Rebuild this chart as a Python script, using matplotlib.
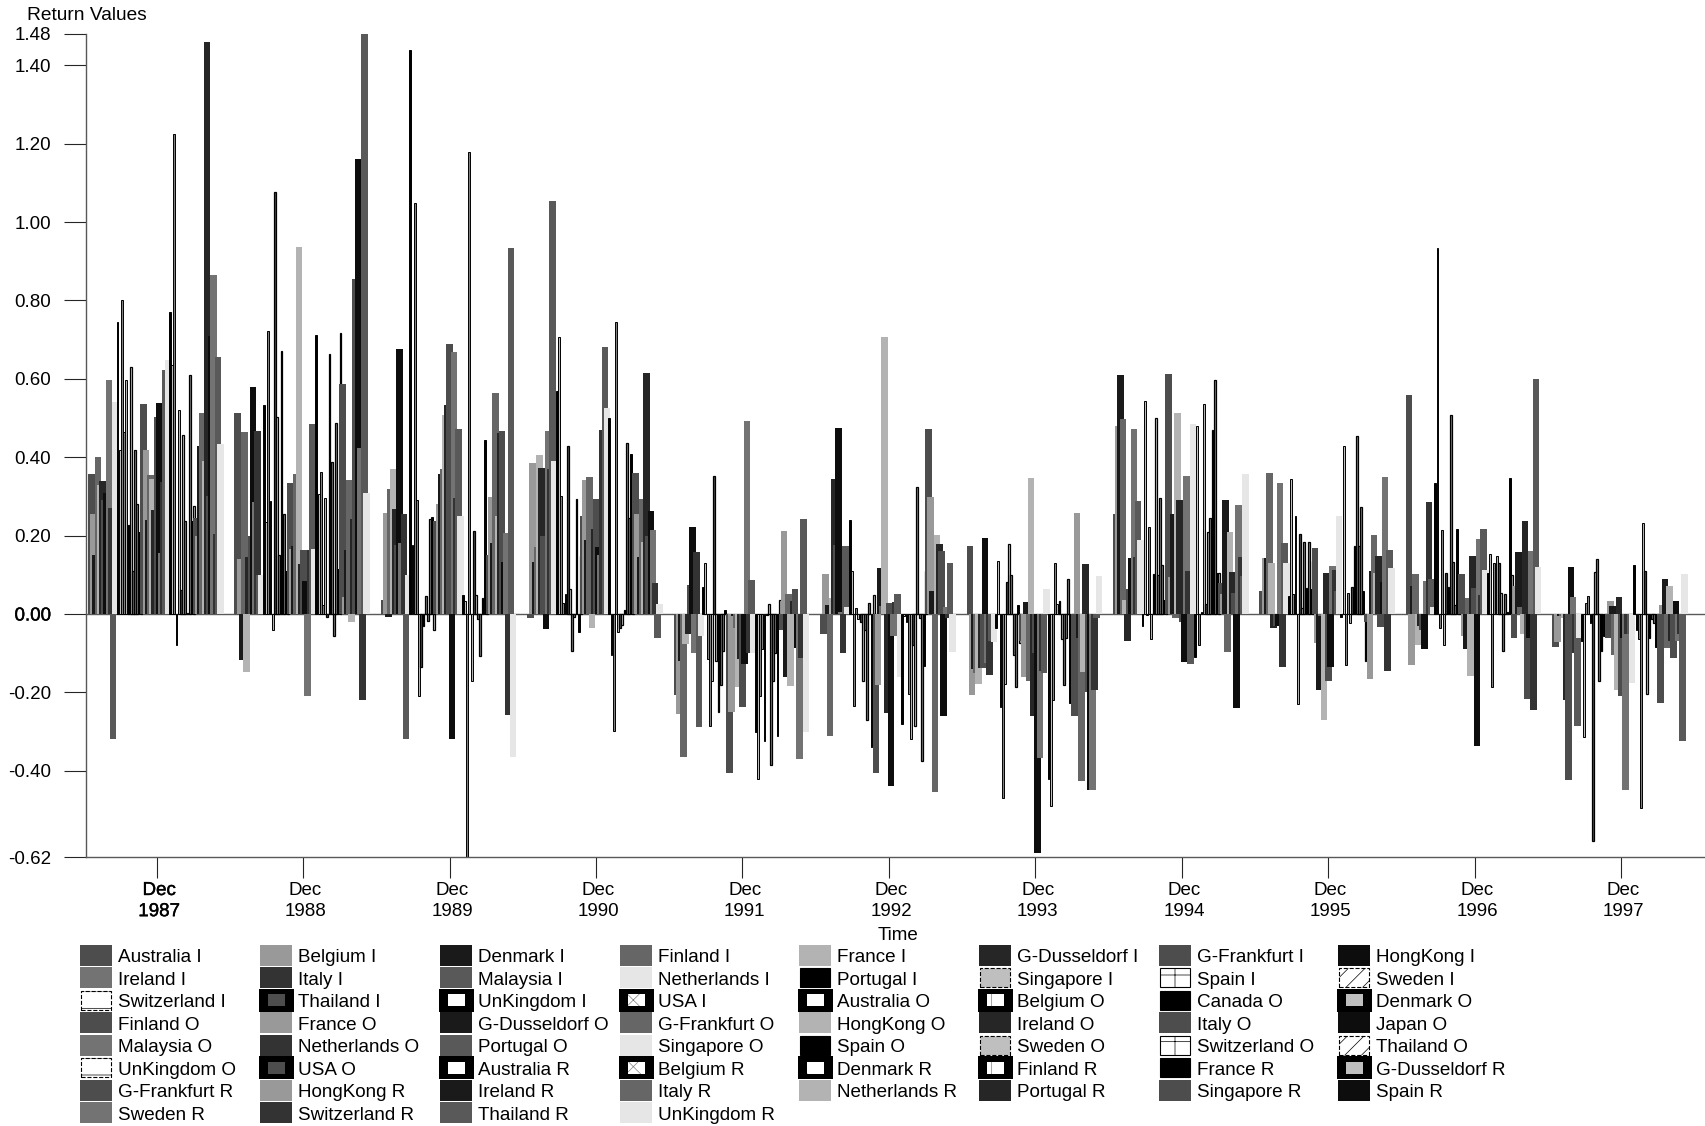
import matplotlib
matplotlib.use("Agg")
import matplotlib.pyplot as plt
import matplotlib.patheffects as pe
from matplotlib.patches import Rectangle
from matplotlib.transforms import IdentityTransform, ScaledTranslation

plt.rcParams['font.family'] = ['Liberation Sans', 'DejaVu Sans']
plt.rcParams['hatch.linewidth'] = 0.5

series = ["Australia I", "Belgium I", "Denmark I", "Finland I", "France I", "G-Dusseldorf I", "G-Frankfurt I", "HongKong I",
          "Ireland I", "Italy I", "Malaysia I", "Netherlands I", "Portugal I", "Singapore I", "Spain I", "Sweden I",
          "Switzerland I", "Thailand I", "UnKingdom I", "USA I", "Australia O", "Belgium O", "Canada O", "Denmark O",
          "Finland O", "France O", "G-Dusseldorf O", "G-Frankfurt O", "HongKong O", "Ireland O", "Italy O", "Japan O",
          "Malaysia O", "Netherlands O", "Portugal O", "Singapore O", "Spain O", "Sweden O", "Switzerland O", "Thailand O",
          "UnKingdom O", "USA O", "Australia R", "Belgium R", "Denmark R", "Finland R", "France R", "G-Dusseldorf R",
          "G-Frankfurt R", "HongKong R", "Ireland R", "Italy R", "Netherlands R", "Portugal R", "Singapore R", "Spain R",
          "Sweden R", "Switzerland R", "Thailand R", "UnKingdom R"]

years = ["1987", "1988", "1989", "1990", "1991", "1992", "1993", "1994", "1995", "1996", "1997"]

dec_1987 = [.358, .256, .15, .40, .33, .34, .29, .31, .597, .27, -.32, .54,
            .745, .418, .80, .465, .597, .226, .63, .11, .418, .28, .21, .005,
            .535, .418, .24, .354, .344, .265, .503, .539, .156, .337, .622, .648,
            .771, .635, 1.224, -.078, .52, .062, .458, .237, .003, .609, .237, .275,
            .246, .2, .43, .514, .39, 1.459, .3, .71, .865, .205, .656, .435]
dec_1988 = [.513, .141, -.117, .464, -.147, .145, .2, .58, .286, .466, .1, .10,
            .533, .235, .722, .288, -.04, 1.077, .503, .15, .671, .256, .11, .002,
            .334, .167, .174, .358, .937, .128, .163, .083, -.208, .163, .486, .167,
            .711, .305, .363, .022, .297, -.008, .663, .389, -.056, .488, .116, .716,
            .588, .043, .163, .341, -.02, .243, .854, 1.161, .424, -.22, 1.482, .31]
dec_1989 = [.035, .258, -.008, .32, .369, .269, .177, .676, .18, .256, -.32, .099,
            1.439, .175, 1.048, .292, -.208, -.136, -.03, .046, -.017, .243, .248, -.04,
            .237, .282, .357, .369, .509, .533, .69, -.32, .669, .296, .473, .25,
            .049, .032, -.62, 1.18, -.17, .211, .048, -.012, -.108, .04, .443, .065,
            .15, .299, .181, .565, .249, .463, .467, .133, .208, -.257, .935, -.365]
dec_1990 = [-.01, .386, .133, .17, .405, .373, .198, -.037, .466, .369, 1.055, .39,
            .568, .707, .30, .028, .052, .43, .065, -.095, -.007, .294, -.045, .147,
            .25, .341, .188, .35, -.035, .218, .294, .171, .15, .469, .682, .526,
            .50, -.105, -.298, .745, -.047, -.035, -.028, .01, .437, .246, .409, .26,
            .36, .256, .145, .294, .184, .614, .2, .263, .215, .079, -.06, .026]
dec_1991 = [-.206, -.255, -.12, -.366, -.077, -.052, .073, .222, -.10, .157, -.288, -.055,
            .07, .13, -.115, -.285, -.17, .351, -.12, -.25, -.18, -.095, .011, -.005,
            -.405, -.25, -.005, -.035, -.185, -.115, -.237, -.128, .493, -.10, .088, -.10,
            -.30, -.42, -.21, -.09, -.325, -.002, .025, -.385, -.17, -.1, -.31, .035,
            -.04, .212, -.16, .05, -.184, .032, .065, -.087, -.37, -.113, .243, -.30]
dec_1992 = [-.05, .101, .022, -.31, .04, .345, .175, .475, .005, -.10, .173, .017,
            .24, .11, -.235, .016, -.013, -.02, -.17, -.04, -.27, .028, -.34, .048,
            -.405, -.18, .117, .02, .707, -.253, .029, -.44, -.055, .03, .05, -.16,
            -.28, -.004, -.02, -.205, -.318, -.08, -.285, .325, -.01, -.375, -.133, .11,
            .471, .298, .059, -.455, .202, .178, .161, -.26, .018, -.01, .129, -.097]
dec_1993 = [.174, -.206, -.14, -.15, -.178, -.138, -.138, .194, -.125, -.155, -.07, -.071,
            -.036, .136, -.238, -.47, -.178, .082, .178, .10, -.105, -.185, .022, -.075,
            -.07, -.16, .03, -.17, .348, -.26, -.1, -.61, -.367, -.145, -.15, .065,
            -.42, -.49, -.22, .129, .025, .032, -.063, -.18, -.06, .09, -.228, -.003,
            -.26, .259, -.06, -.425, -.148, .127, -.2, -.45, -.45, -.195, -.01, .096]
dec_1994 = [.254, .479, .609, .497, .037, -.07, .065, .143, .471, .145, .289, .188,
            -.03, .544, -.002, .222, -.065, .103, .50, .10, .297, .125, .035, .24,
            .613, .095, .254, -.01, .514, .292, -.02, -.123, .353, .11, -.128, .485,
            -.11, .48, -.08, .004, .537, .025, .21, .245, .47, .596, .105, .105,
            .08, .05, .292, -.098, .21, .108, .053, -.24, .278, .145, .098, .358]
dec_1995 = [.06, .144, .144, .36, .129, -.035, -.03, -.03, .334, -.136, .181, .129,
            .045, .345, .05, .25, -.23, .204, .015, .183, .066, .183, .064, .135,
            .168, -.073, -.195, -.005, -.27, .105, -.17, -.135, .123, .112, .058, .25,
            -.007, .428, -.13, .053, -.022, .069, .173, .454, .173, .272, .06, -.12,
            -.02, -.165, .11, .202, .105, .147, -.032, .082, .35, -.145, .163, .118]
dec_1996 = [.558, -.13, .072, .102, -.078, -.03, -.04, -.088, .084, .285, .09, .017,
            .334, .933, -.036, .215, -.08, .105, .069, .508, .134, .022, .218, .006,
            .103, -.057, -.09, .04, -.157, .147, .067, -.337, .192, .048, .217, .113,
            .105, .152, -.185, .13, .147, .13, .053, -.095, .05, .006, .347, .10,
            -.06, .072, .157, .017, -.05, .238, -.218, -.06, .162, -.245, .60, .12]
dec_1997 = [-.085, -.072, -.005, -.005, -.01, -.22, -.424, .12, .043, -.1, -.285, -.06,
            -.07, -.315, .027, .046, -.023, -.58, .107, .14, -.17, -.095, -.055, -.004,
            -.06, .033, .02, -.105, -.195, .044, -.21, -.06, -.45, -.052, -.05, -.177,
            .124, -.04, -.065, -.495, .232, .11, -.205, -.06, -.012, -.022, -.085, -.01,
            -.227, .022, .09, -.087, .072, -.07, -.113, .033, -.07, -.05, -.325, .102]
all_years = [dec_1987, dec_1988, dec_1989, dec_1990, dec_1991, dec_1992,
             dec_1993, dec_1994, dec_1995, dec_1996, dec_1997]

y_ticks = [-.62, -.40, -.20, 0, .20, .40, .60, .80, 1.00, 1.20, 1.40, 1.48]

# styles repeat every 24 series: 12 plain wide bars then 12 thin outlined ones
plain_grey = ["0.3", "0.6", "0.1", "0.4", "0.7", "0.15", "0.3", "0.05", "0.45", "0.2", "0.35", "0.9"]
# at bar width the hatches just read as grey, so the bars get a flat fill
thin_bar_face = ["0", "0.75", "0.5", "0.5", "0.7", "0.3", "0.8", "0.5", "0.5", "0.5", "0", "0.75"]
thin_bar_lw = [0.7, 0.7, 0.7, 0.7, 0.7, 0.9, 0.9, 0.9, 0.9, 0.9, 0.7, 0.9]
# legend swatches
key_face = ["0", "0.75", "1", "1", "1", "0.3", "1", "1", "1", "1", "0", "0.75"]
key_hatch = [None, None, "+", "//", "-", None, None, "x", "\\", "|", None, None]
key_heavy = [False, False, False, False, False, True, True, True, True, True, False, True]
key_ls = ["-", "--", "-", "--", "--", "-", "-", "-", "-", "-", "-", "-"]

W, H = 1705, 1126
slot_px = 2.1855
first_px = 91.3
group_slots = 67
ax_left, ax_top, ax_bottom = 86, 34, 857

fig = plt.figure(figsize=(W / 100, H / 100), dpi=100)
ax = fig.add_axes([ax_left / W, (H - ax_bottom) / H, (W - ax_left) / W, (ax_bottom - ax_top) / H])

for k in range(len(series)):
    xs = [g * group_slots + k for g in range(len(years))]
    vals = [yr[k] for yr in all_years]
    pos = k % 24
    if pos < 12:
        ax.bar(xs, vals, width=3.0, color=plain_grey[pos], linewidth=0, zorder=2 + k * 0.01)
    else:
        ax.bar(xs, vals, width=0.85, facecolor=thin_bar_face[pos - 12], edgecolor="black",
               linewidth=thin_bar_lw[pos - 12], zorder=2 + k * 0.01)

ax.axhline(0, color="0.35", linewidth=1, zorder=1)
ax.set_xlim((ax_left - first_px) / slot_px, (W - first_px) / slot_px)
ax.set_ylim(-.62, 1.48)

for s in ["top", "right"]:
    ax.spines[s].set_visible(False)
for s in ["left", "bottom"]:
    ax.spines[s].set_color("0.35")
    ax.spines[s].set_linewidth(1)

ax.set_yticks(y_ticks)
ax.set_yticklabels(["%.2f" % v for v in y_ticks], fontsize=13.5, color="black")
ax.tick_params(axis="y", length=16, width=0.8, color="0.15", pad=9)
ax.set_xticks([g * group_slots + 29.9 for g in range(len(years))])
ax.set_xticklabels(["Dec\n" + y for y in years], fontsize=13.5, linespacing=1.32)
ax.tick_params(axis="x", length=15, width=0.8, color="0.15", pad=3)

nudge = ScaledTranslation(2.5 / 100, 0, fig.dpi_scale_trans)
for lab in ax.get_xticklabels():
    lab.set_transform(lab.get_transform() + nudge)

bold = [pe.withStroke(linewidth=0.3, foreground="black")]
ax.get_xticklabels()[0].set_path_effects(bold)
ax.get_yticklabels()[3].set_path_effects(bold)

fig.text(27 / W, 1 - 15 / H, "Return Values", fontsize=13.8, ha="left", va="center")
fig.text(898 / W, 1 - 936 / H, "Time", fontsize=13.5, ha="center", va="center")

# legend, filled row by row on a fixed pixel grid
col_x = [80, 260, 440, 620, 799, 979, 1159, 1338]
row_y = 945
row_step = 22.45
sw, sh = 32, 21
id_tr = IdentityTransform()
for k, name in enumerate(series):
    row, col = k // 8, k % 8
    x0 = col_x[col]
    y0 = row_y + row * row_step
    pos = k % 24
    if pos < 12:
        fig.add_artist(Rectangle((x0, H - y0 - sh), sw, sh, transform=id_tr, facecolor=plain_grey[pos], linewidth=0))
    else:
        pos -= 12
        if key_heavy[pos]:
            # heavy frame: wider at the sides than top and bottom
            fig.add_artist(Rectangle((x0 - 1.5, H - y0 - sh - 1), sw + 3, sh + 2, transform=id_tr,
                                     facecolor="black", linewidth=0))
            fig.add_artist(Rectangle((x0 + 7.5, H - y0 - sh + 4.5), sw - 15, sh - 9, transform=id_tr,
                                     facecolor=key_face[pos], edgecolor="0.5", hatch=key_hatch[pos], linewidth=0))
        else:
            fig.add_artist(Rectangle((x0 + 1, H - y0 - sh + 1), sw - 2, sh - 2, transform=id_tr,
                                     facecolor=key_face[pos], edgecolor="black", hatch=key_hatch[pos],
                                     linestyle=key_ls[pos], linewidth=0.8))
    fig.text((x0 + 38) / W, 1 - (y0 + 13) / H, name, fontsize=13.6, ha="left", va="center")

fig.savefig("out.png", dpi=100)
plt.close(fig)
